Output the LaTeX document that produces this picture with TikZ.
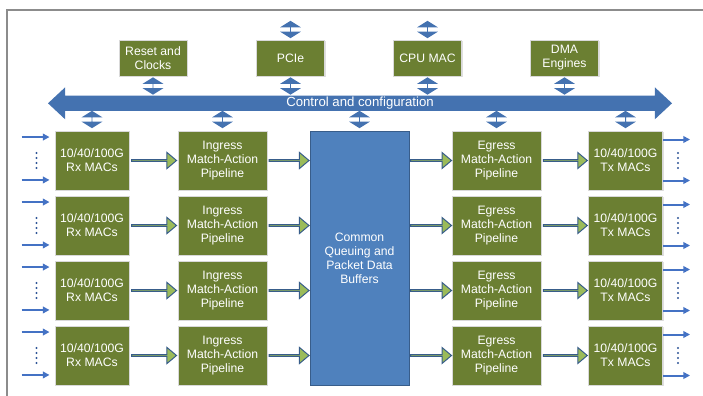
\documentclass[tikz,border=0pt]{standalone}
\usepackage{fontspec}
\setmainfont{Liberation Sans}
\usetikzlibrary{shapes.arrows,arrows.meta,calc,shadows}
\definecolor{boxgreen}{RGB}{107,127,50}
\definecolor{busblue}{RGB}{68,114,176}
\definecolor{bufblue}{RGB}{79,129,189}
\definecolor{bufedge}{RGB}{56,93,138}
\definecolor{arrgreen}{RGB}{155,187,89}
\definecolor{lineblue}{RGB}{68,114,196}
\definecolor{dotblue}{RGB}{47,85,151}
\definecolor{framegray}{RGB}{140,140,140}
\tikzset{
  lbl/.style={text=white, align=center, font=\fontsize{9.15}{10.6}\selectfont},
  blk/.style={lbl, draw=white!85!black, line width=0.75pt, fill=boxgreen, inner sep=0pt,
    drop shadow={shadow xshift=0.8pt, shadow yshift=-0.8pt, opacity=0.25}},
  topblk/.style={blk, minimum width=51pt, minimum height=27pt},
  macblk/.style={blk, minimum width=55.5pt, minimum height=44.25pt},
  pipeblk/.style={blk, minimum width=66.75pt, minimum height=44.25pt},
  bufblk/.style={lbl, draw=bufedge, line width=0.75pt, fill=bufblue, minimum width=74.25pt, minimum height=190.5pt},
  bus/.style={lbl, font=\fontsize{9.9}{11}\selectfont, double arrow, fill=busblue, inner sep=0pt,
    minimum height=468pt, minimum width=24pt, double arrow head extend=5.25pt, double arrow tip angle=86},
  link/.style={double arrow, rotate=90, fill=busblue, inner sep=0pt, minimum height=13pt, minimum width=15.5pt,
    double arrow head extend=4pt, double arrow tip angle=116},
  flow/.style={single arrow, fill=arrgreen, draw=bufedge, line width=0.75pt, inner sep=0pt, minimum width=12pt,
    single arrow head extend=3pt, single arrow tip angle=80},
  inarr/.style={lineblue, line width=1.5pt, -{Triangle[length=5pt,width=5pt]}}
}
\begin{document}
\begin{tikzpicture}[x=0.75pt,y=-0.75pt]
\useasboundingbox (0,0) rectangle (703,396);
\draw[framegray, line width=1.5pt] (7,396) -- (7,10) -- (703,10);
\node[topblk] (reset) at (153,58) {Reset and\\Clocks};
\node[topblk] (pcie) at (290.5,58) {PCIe};
\node[topblk] (cpu) at (427.5,58) {CPU MAC};
\node[topblk] (dma) at (564.5,58) {DMA\\Engines};
\node[bus] (bus) at (360,103.3) {Control and configuration};
\node[link] (lpcie) at ($(pcie.north)+(0,-10)$) {};
\node[link] (lcpu) at ($(cpu.north)+(0,-10)$) {};
\foreach \b in {reset,pcie,cpu,dma}
  \node[link] (b\b) at ($(\b.south)+(0,9.5)$) {};
\node[bufblk] (buf) at (359.5,258) {Common\\Queuing and\\Packet Data\\Buffers};
\foreach \i/\y in {1/160.5,2/225.5,3/290.5,4/355.5} {
  \node[macblk] (rx\i) at (92,\y) {10/40/100G\\Rx MACs};
  \node[pipeblk] (ing\i) at (222.5,\y) {Ingress\\Match-Action\\Pipeline};
  \node[pipeblk] (eg\i) at (496.5,\y) {Egress\\Match-Action\\Pipeline};
  \node[macblk] (tx\i) at (625.5,\y) {10/40/100G\\Tx MACs};
  \node[flow, minimum height=33.75pt] (fa\i) at ($(rx\i.east)!0.5!(ing\i.west)$) {};
  \node[flow, minimum height=30pt] (fb\i) at ($(ing\i.east)!0.5!(buf.west |- ing\i.east)$) {};
  \node[flow, minimum height=30.75pt] (fc\i) at ($(buf.east |- eg\i.west)!0.5!(eg\i.west)$) {};
  \node[flow, minimum height=33pt] (fd\i) at ($(eg\i.east)!0.5!(tx\i.west)$) {};
  \draw[inarr] ([xshift=-24.75pt,yshift=17.6pt]rx\i.west) -- ([xshift=-3.75pt,yshift=17.6pt]rx\i.west);
  \draw[inarr] ([xshift=-24.75pt,yshift=-14.6pt]rx\i.west) -- ([xshift=-3.75pt,yshift=-14.6pt]rx\i.west);
  \draw[inarr] ([yshift=15.75pt]tx\i.east) -- ([xshift=20.25pt,yshift=15.75pt]tx\i.east);
  \draw[inarr] ([yshift=-15pt]tx\i.east) -- ([xshift=20.25pt,yshift=-15pt]tx\i.east);
  \foreach \d in {0,...,3} {
    \fill[dotblue] ($(rx\i.west)+(-18,-7.5+5*\d)$) circle (0.9pt);
    \fill[dotblue] ($(tx\i.east)+(15,-7.5+5*\d)$) circle (0.9pt);
  }
}
\foreach \b in {rx1,ing1,buf,eg1,tx1}
  \node[link] (t\b) at ($(\b.north)+(0,-11)$) {};
\end{tikzpicture}
\end{document}
